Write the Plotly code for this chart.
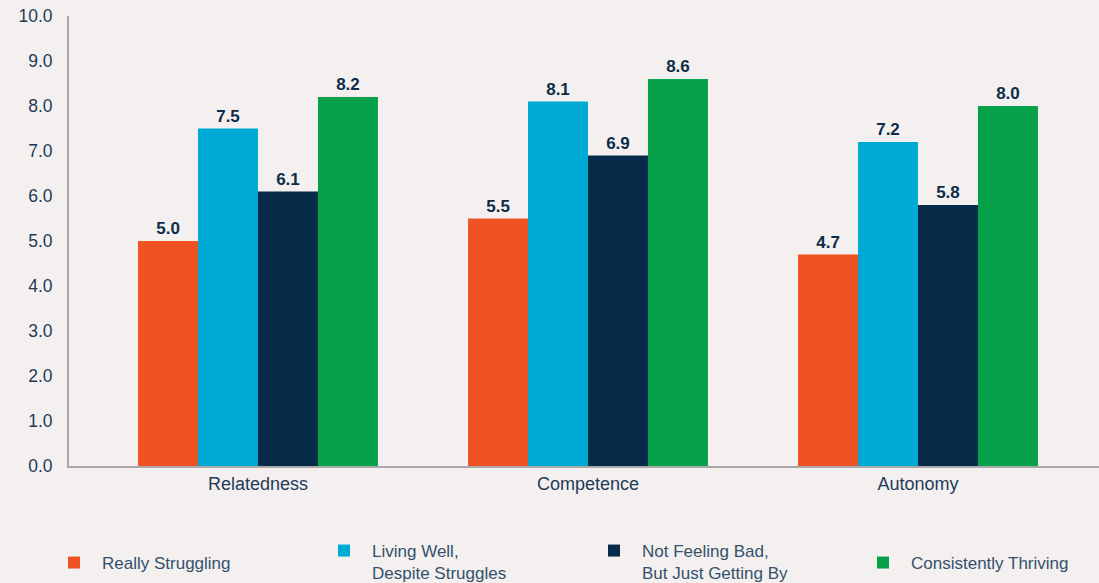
import plotly.graph_objects as go

# Scores per psychological need, by wellbeing group
categories = ["Relatedness", "Competence", "Autonomy"]
series_names = [
    "Really Struggling",
    "Living Well,<br>Despite Struggles",
    "Not Feeling Bad,<br>But Just Getting By",
    "Consistently Thriving",
]
really_struggling = [5.0, 5.5, 4.7]
living_well = [7.5, 8.1, 7.2]
not_feeling_bad = [6.1, 6.9, 5.8]
consistently_thriving = [8.2, 8.6, 8.0]
y_ticks = [0, 1, 2, 3, 4, 5, 6, 7, 8, 9, 10]

series_values = [really_struggling, living_well, not_feeling_bad, consistently_thriving]
colors = ["#EF5324", "#00AAD6", "#062A47", "#08A14B"]

W, H = 1099, 583
BG = "#F3F0EF"
FONT = "Liberation Sans, Arial, sans-serif"

# Legend entry positions (container pixels: left edge, top edge)
legend_pos = [(46, 545), (316, 533), (586, 533), (855, 545)]

fig = go.Figure()
for i, (name, vals, col) in enumerate(zip(series_names, series_values, colors)):
    lg = "legend" if i == 0 else f"legend{i + 1}"
    fig.add_trace(go.Bar(
        x=categories, y=vals, name=name, marker_color=col,
        marker_line_width=0,
        text=vals, texttemplate="<b>%{y:.1f}</b>", textposition="outside",
        textfont=dict(family=FONT, size=17, color="#0D2C4A"),
        cliponaxis=False, legend=lg,
    ))

legend_common = dict(
    xref="container", yref="container", xanchor="left", yanchor="top",
    bgcolor="rgba(0,0,0,0)", valign="top", itemwidth=46,
    font=dict(family=FONT, size=17, color="#34506C"),
)
layout_legends = {}
for i, (lx, ly) in enumerate(legend_pos):
    key = "legend" if i == 0 else f"legend{i + 1}"
    layout_legends[key] = dict(legend_common, x=lx / W, y=1 - ly / H)

fig.update_layout(
    width=W, height=H,
    paper_bgcolor=BG, plot_bgcolor=BG,
    margin=dict(l=69, r=0, t=16, b=117, autoexpand=False),
    barmode="group", bargap=0.273, bargroupgap=0,
    font=dict(family=FONT, size=16, color="#1E3B5A"),
    showlegend=True,
    **layout_legends,
)
fig.update_xaxes(
    range=[-0.5727, 2.5485], showline=True, linecolor="#A9A9A9", linewidth=2,
    showgrid=False, ticks="", tickangle=0,
    tickfont=dict(family=FONT, size=18, color="#1E3B5A"),
    ticklabelstandoff=0,
    zeroline=False,
)
fig.update_yaxes(
    range=[0, 10], tickvals=y_ticks, tickformat=".1f",
    showline=True, linecolor="#A9A9A9", linewidth=2,
    showgrid=False, ticks="", zeroline=False,
    tickfont=dict(family=FONT, size=17.5, color="#1E3B5A"),
    ticklabelstandoff=11,
)

fig.write_html("out.html")
